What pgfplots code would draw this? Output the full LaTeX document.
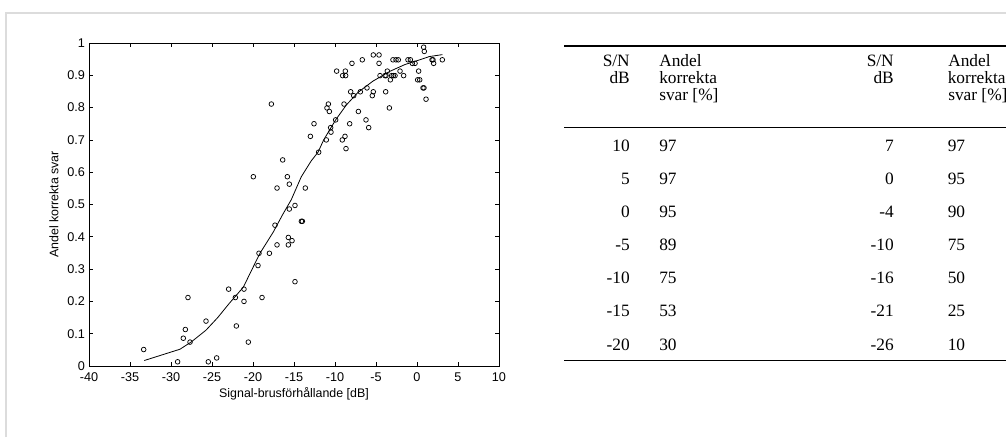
\documentclass[border=0pt]{standalone}
\usepackage{fontspec}
\setmainfont{Liberation Serif}
\newfontfamily\arial{Liberation Sans}
\usepackage{pgfplots}
\pgfplotsset{compat=1.18}
\definecolor{framegray}{HTML}{DCDCDC}

\pgfplotstableread{
x y
-33.33 0.051
-29.19 0.013
-28.50 0.086
-28.25 0.113
-27.93 0.212
-27.68 0.074
-25.73 0.139
-25.45 0.013
-24.43 0.025
-22.97 0.238
-22.15 0.212
-22.03 0.124
-21.10 0.238
-21.10 0.200
-20.57 0.074
-19.96 0.586
-19.39 0.311
-19.27 0.349
-18.90 0.212
-18.00 0.349
-17.76 0.811
-17.32 0.436
-17.07 0.551
-17.07 0.375
-16.38 0.638
-15.81 0.586
-15.69 0.398
-15.69 0.375
-15.57 0.563
-15.57 0.486
-15.24 0.388
-14.88 0.497
-14.88 0.261
-14.10 0.448
-13.98 0.448
-13.62 0.551
-13.00 0.711
-12.56 0.750
-11.99 0.662
-11.06 0.700
-10.98 0.799
-10.81 0.811
-10.69 0.788
-10.53 0.738
-10.49 0.724
-9.92 0.762
-9.80 0.913
-9.11 0.700
-9.07 0.899
-8.90 0.811
-8.78 0.711
-8.74 0.913
-8.70 0.899
-8.66 0.673
-8.21 0.750
-8.09 0.849
-7.93 0.937
-7.72 0.837
-7.15 0.788
-6.91 0.849
-6.67 0.948
-6.22 0.762
-6.10 0.861
-5.89 0.738
-5.45 0.837
-5.33 0.849
-5.33 0.963
-4.63 0.963
-4.63 0.937
-4.51 0.899
-3.82 0.849
-3.90 0.899
-3.78 0.899
-3.62 0.913
-3.37 0.799
-3.25 0.886
-3.09 0.899
-2.93 0.948
-2.89 0.899
-2.68 0.899
-2.56 0.948
-2.28 0.948
-2.07 0.913
-1.63 0.899
-1.10 0.948
-0.81 0.948
-0.57 0.937
-0.24 0.937
0.08 0.886
0.20 0.913
0.33 0.886
0.73 0.861
0.81 0.987
0.89 0.974
0.85 0.861
1.10 0.826
1.83 0.948
1.95 0.948
2.03 0.937
3.09 0.948
}\scatterdata

\pgfplotstableread{
x y
-33.26 0.017
-28.90 0.052
-27.50 0.075
-25.73 0.111
-24.30 0.150
-22.89 0.194
-21.18 0.244
-20.20 0.295
-19.15 0.349
-17.52 0.415
-16.40 0.468
-15.33 0.515
-14.11 0.586
-12.90 0.635
-12.07 0.662
-11.38 0.700
-9.92 0.762
-8.62 0.808
-7.20 0.847
-5.37 0.882
-3.33 0.912
-1.50 0.933
0.33 0.948
1.50 0.958
3.09 0.964
}\curvedata

\newcommand{\T}[4]{\node[anchor=#3] at (#1,{437-#2}) {#4};}

\begin{document}
\begin{tikzpicture}[x=0.75pt,y=0.75pt]
\path[use as bounding box] (0,0) rectangle (1006,437);
\draw[framegray, line width=1.5pt] (6,0) -- (6,424) -- (1006,424);

\begin{axis}[
  at={(66.75pt,53.25pt)}, anchor=south west,
  scale only axis, width=307.5pt, height=242.25pt,
  xmin=-40, xmax=10, ymin=0, ymax=1,
  xtick={-40,-35,-30,-25,-20,-15,-10,-5,0,5,10},
  xticklabels={-40,-35,-30,-25,-20,-15,-10,-5,0,5,10},
  ytick={0,0.1,0.2,0.3,0.4,0.5,0.6,0.7,0.8,0.9,1},
  yticklabels={0,0.1,0.2,0.3,0.4,0.5,0.6,0.7,0.8,0.9,1},
  tick align=inside, major tick length=3pt,
  every tick/.style={black, line width=0.5pt},
  axis line style={black, line width=0.6pt},
  ticklabel style={font=\arial\fontsize{9.5}{11}\selectfont},
  xticklabel style={yshift=-1.5pt},
  yticklabel style={xshift=0.5pt},
  xlabel={Signal-brusförhållande [dB]},
  ylabel={Andel korrekta svar},
  label style={font=\arial\fontsize{9.3}{11}\selectfont},
  xlabel style={at={(axis description cs:0.5,-0.0867)}, anchor=center},
  ylabel style={at={(axis description cs:-0.0854,0.5)}, anchor=center},
  clip=false,
]
\addplot[only marks, mark=o, mark size=1.75pt, black, mark options={line width=0.55pt}] table[x=x,y=y] {\scatterdata};
\addplot[black, line width=0.6pt, no marks] table[x=x,y=y] {\curvedata};
\end{axis}

% table rules
\draw[line width=1.125pt] (564,{437-46}) -- (1006,{437-46});
\draw[line width=1.125pt] (564,{437-127.3}) -- (1006,{437-127.3});
\draw[line width=1.125pt] (564,{437-360.7}) -- (1006,{437-360.7});

\begin{scope}[every node/.style={inner sep=0pt, font=\fontsize{13}{15}\selectfont}]
\T{630}{66}{base east}{S/N}
\T{630}{83}{base east}{dB}
\T{659}{66}{base west}{Andel}
\T{659}{83}{base west}{korrekta}
\T{659}{100}{base west}{svar [\%]}
\T{894}{66}{base east}{S/N}
\T{894}{83}{base east}{dB}
\T{948}{66}{base west}{Andel}
\T{947.5}{83}{base west}{korrekta}
\T{948}{100}{base west}{svar [\%]}
\foreach \a/\b/\c/\d [count=\i from 0] in {10/97/7/97, 5/97/0/95, 0/95/-4/90, -5/89/-10/75, -10/75/-16/50, -15/53/-21/25, -20/30/-26/10}{
  \pgfmathsetmacro{\yy}{437-(151+33.17*\i)}
  \node[anchor=base east] at (630,\yy) {\a};
  \node[anchor=base west] at (659,\yy) {\b};
  \node[anchor=base east] at (894,\yy) {\c};
  \node[anchor=base west] at (947.5,\yy) {\d};
}
\end{scope}
\end{tikzpicture}
\end{document}
